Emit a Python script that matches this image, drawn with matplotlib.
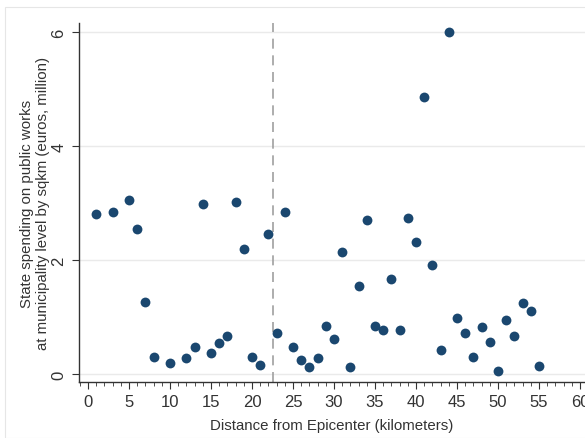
import matplotlib
matplotlib.use("Agg")
import matplotlib.pyplot as plt
from matplotlib.patches import Rectangle
from matplotlib.ticker import MultipleLocator

# distance from epicenter (km) and state spending per sqkm (euros, million)
distance = [1, 3, 5, 6, 7, 8, 10, 12, 13, 14, 15, 16, 17, 18, 19, 20, 21, 22,
            23, 24, 25, 26, 27, 28, 29, 30, 31, 32, 33, 34, 35, 36, 37, 38,
            39, 40, 41, 42, 43, 44, 45, 46, 47, 48, 49, 50, 51, 52, 53, 54, 55]
spending = [2.81, 2.84, 3.05, 2.54, 1.26, 0.30, 0.19, 0.28, 0.47, 2.98, 0.37,
            0.54, 0.67, 3.02, 2.19, 0.30, 0.16, 2.46, 0.72, 2.84, 0.47, 0.25,
            0.12, 0.28, 0.84, 0.61, 2.15, 0.12, 1.54, 2.70, 0.84, 0.77, 1.67,
            0.77, 2.74, 2.32, 4.86, 1.91, 0.42, 6.00, 0.98, 0.72, 0.30, 0.82,
            0.56, 0.05, 0.95, 0.67, 1.25, 1.10, 0.14]
cutoff = 22.5

plt.rcParams['font.family'] = ['Liberation Sans', 'DejaVu Sans']

fig = plt.figure(figsize=(5.85, 4.39), dpi=100)
# faint outer frame of the graph region
fig.patches.append(Rectangle((5 / 585, 0), 1, 1 - 8 / 439, transform=fig.transFigure,
                             fill=False, edgecolor='#e6e6e6', linewidth=0.8))
ax = fig.add_axes([79 / 585, 56 / 439, 506 / 585, 359 / 439])

ax.scatter(distance, spending, s=50, color='#1a476f', zorder=3, linewidths=0)
ax.axvline(cutoff, color='#a0a0a0', linestyle=(0, (6, 4)), linewidth=1.2, zorder=2)

ax.set_xlim(-1.1, 60.6)
ax.set_ylim(-0.14, 6.16)
ax.xaxis.set_major_locator(MultipleLocator(5))
ax.xaxis.set_minor_locator(MultipleLocator(1))
ax.set_yticks([0, 2, 4, 6])
ax.grid(axis='y', color='#eaeaea', linewidth=1)
ax.set_axisbelow(True)

for s in ['top', 'right']:
    ax.spines[s].set_visible(False)
for s in ['left', 'bottom']:
    ax.spines[s].set_color('#333333')
    ax.spines[s].set_linewidth(1)

ax.tick_params(axis='x', which='major', length=5, labelsize=12, colors='#333333', pad=4)
ax.tick_params(axis='x', which='minor', length=3, color='#333333')
ax.tick_params(axis='y', length=5, labelsize=12, colors='#333333', pad=4)
for lbl in ax.get_yticklabels():
    lbl.set_rotation(90)
    lbl.set_va('center')

ax.set_xlabel('Distance from Epicenter (kilometers)', fontsize=10.8, color='#333333', labelpad=6)
ax.set_ylabel('State spending on public works\nat municipality level by sqkm (euros, million)',
              fontsize=10.8, color='#333333', labelpad=1, linespacing=1.2)

fig.savefig('out.png', dpi=100)
